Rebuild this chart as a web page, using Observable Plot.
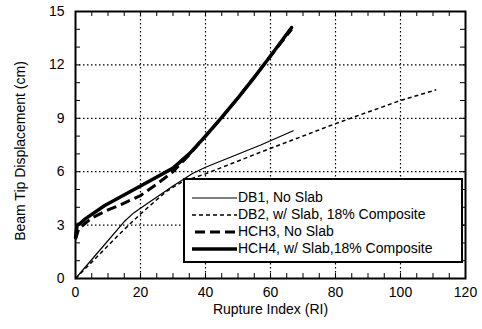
<!DOCTYPE html>
<html><head><meta charset="utf-8">
<script src="https://cdn.jsdelivr.net/npm/d3@7"></script>
<script src="https://cdn.jsdelivr.net/npm/@observablehq/plot@0.6"></script>
<style>
body{margin:0;background:#fff;}
#wrap{position:relative;width:482px;height:329px;font-family:"Liberation Sans",Arial,sans-serif;}
#legend{position:absolute;left:183px;top:178px;width:276px;height:81px;border:2px solid #000;background:#fff;}
.row{position:absolute;left:0;width:276px;height:17px;}
.row svg{position:absolute;left:0;top:0;}
.row span{position:absolute;left:53px;top:0;line-height:17px;font-size:14px;color:#000;white-space:nowrap;}
</style></head><body><div id="wrap"></div>
<script>
// tick / grid values
const xTickLabels = [0, 20, 40, 60, 80, 100, 120];
const yTickLabels = [0, 3, 6, 9, 12, 15];
const xGrid = [20, 40, 60, 80, 100];
const yGrid = [3, 6, 9, 12];
const xMinor = [0,5,10,15,20,25,30,35,40,45,50,55,60,65,70,75,80,85,90,95,100,105,110,115,120];
const yMinor = [0,1,2,3,4,5,6,7,8,9,10,11,12,13,14,15];

// series names
const seriesNames = ["DB1, No Slab", "DB2, w/ Slab, 18% Composite", "HCH3, No Slab", "HCH4, w/ Slab,18% Composite"];

// series values (Rupture Index, Beam Tip Displacement cm)
const db1X = [0, 8, 15, 18, 22, 30, 36, 40, 57, 67];
const db1Y = [0, 1.7, 3.2, 3.7, 4.2, 5.2, 5.9, 6.25, 7.5, 8.3];
const db2X = [0, 6, 13, 20, 28, 33, 40, 57, 80, 100, 111];
const db2Y = [0, 1.1, 2.4, 3.63, 4.9, 5.45, 5.88, 7.1, 8.7, 10.0, 10.6];
const hch3X = [0, 1, 5, 10, 14, 20, 25, 30, 35, 40, 45, 50, 55, 60, 66.5];
const hch3Y = [2.2, 2.8, 3.4, 3.85, 4.15, 4.66, 5.3, 6.0, 6.95, 8.0, 9.05, 10.15, 11.3, 12.5, 14.0];
const hch4X = [0, 0.5, 1.5, 3, 9, 20, 30, 35, 40, 45, 50, 55, 60, 66.5];
const hch4Y = [2.3, 3.0, 3.1, 3.35, 4.1, 5.2, 6.2, 7.0, 8.0, 9.05, 10.15, 11.3, 12.5, 14.1];

const seriesX = [db1X, db2X, hch3X, hch4X];
const seriesY = [db1Y, db2Y, hch3Y, hch4Y];

// styles (kept apart from the data)
const styles = [
  {strokeWidth: 1.2, dash: null},
  {strokeWidth: 1.5, dash: "4,3"},
  {strokeWidth: 3, dash: "10,5"},
  {strokeWidth: 3.5, dash: null}
];

const rows = [];
seriesNames.forEach((name, i) => {
  seriesX[i].forEach((x, j) => rows.push({series: name, x, y: seriesY[i][j]}));
});

const W = 482, H = 329, mL = 75, mR = 17, mT = 11, mB = 51;
const fw = W - mL - mR, fh = H - mT - mB;
const tickLen = 5;

const lineMarks = seriesNames.map((name, i) => Plot.line(rows.filter(d => d.series === name), {
  x: "x", y: "y", stroke: "#000", strokeWidth: styles[i].strokeWidth,
  strokeDasharray: styles[i].dash, strokeLinejoin: "round", strokeLinecap: styles[i].dash ? "butt" : "round"
}));

const chart = Plot.plot({
  width: W, height: H,
  marginLeft: mL, marginRight: mR, marginTop: mT, marginBottom: mB,
  style: {fontSize: "14px", fontFamily: "'Liberation Sans', Arial, sans-serif", background: "#fff", color: "#000"},
  x: {domain: [0, 120], label: null},
  y: {domain: [0, 15], label: null},
  marks: [
    Plot.ruleX(xGrid, {stroke: "#000", strokeWidth: 1.2, strokeDasharray: "1.5,2.5"}),
    Plot.ruleY(yGrid, {stroke: "#000", strokeWidth: 1.2, strokeDasharray: "1.5,2.5"}),
    Plot.tickX(xMinor, {x: d => d, insetTop: fh - tickLen, stroke: "#000", strokeWidth: 1}),
    Plot.tickX(xMinor, {x: d => d, insetBottom: fh - tickLen, stroke: "#000", strokeWidth: 1}),
    Plot.tickY(yMinor, {y: d => d, insetRight: fw - tickLen, stroke: "#000", strokeWidth: 1}),
    Plot.tickY(yMinor, {y: d => d, insetLeft: fw - tickLen, stroke: "#000", strokeWidth: 1}),
    ...lineMarks,
    Plot.frame({stroke: "#000", strokeWidth: 2}),
    Plot.axisX(xTickLabels, {tickSize: 0, tickPadding: 9, label: null, fontSize: 14}),
    Plot.axisY(yTickLabels, {tickSize: 0, tickPadding: 11, label: null, fontSize: 14}),
    Plot.text(["Rupture Index (RI)"], {frameAnchor: "bottom", textAnchor: "middle", dy: 35.5, fontSize: 14, fill: "#000"}),
    Plot.text(["Beam Tip Displacement (cm)"], {frameAnchor: "left", textAnchor: "middle", dx: -55, dy: 6, rotate: -90, fontSize: 14, fill: "#000"})
  ]
});

const wrap = document.getElementById("wrap");
wrap.appendChild(chart);

// legend
const legend = document.createElement("div");
legend.id = "legend";
const rowTops = [9, 26, 43, 60];
const sampleStart = [7, 7, 10, 7];
seriesNames.forEach((name, i) => {
  const r = document.createElement("div");
  r.className = "row";
  r.style.top = rowTops[i] + "px";
  const s = styles[i];
  r.innerHTML = `<svg width="54" height="17"><line x1="${sampleStart[i]}" x2="52" y1="9" y2="9" stroke="#000" stroke-width="${s.strokeWidth}" ${s.dash ? `stroke-dasharray="${s.dash}"` : ""}/></svg><span>${name}</span>`;
  legend.appendChild(r);
});
wrap.appendChild(legend);
</script>
</body></html>
